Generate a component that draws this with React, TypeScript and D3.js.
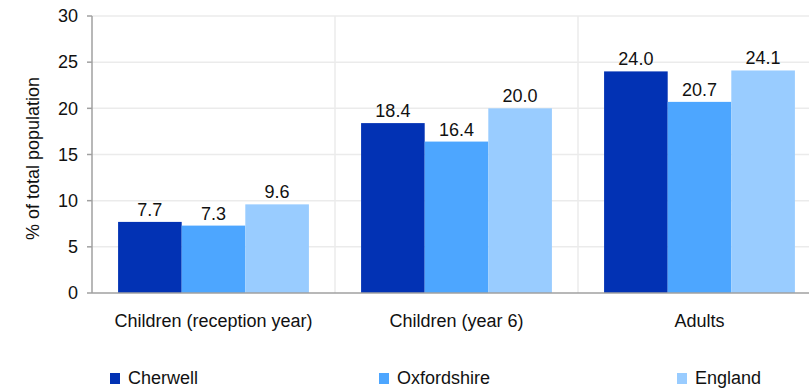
import React from "react";
import * as d3 from "d3";

const categories = ["Children (reception year)", "Children (year 6)", "Adults"];
const seriesNames = ["Cherwell", "Oxfordshire", "England"];
const cherwell = [7.7, 18.4, 24.0];
const oxfordshire = [7.3, 16.4, 20.7];
const england = [9.6, 20.0, 24.1];
const yTicks = [0, 5, 10, 15, 20, 25, 30];
const colors = ["#0232B4", "#4DA6FF", "#99CCFF"];

const W = 809;
const H = 388;
const left = 92;
const right = 821;
const top = 16;
const bottom = 293;
const font = "'Liberation Sans', Arial, sans-serif";
const fs = 18;

export default function App() {
  const values = [cherwell, oxfordshire, england];
  const y = d3.scaleLinear().domain([0, 30]).range([bottom, top]);
  const x0 = d3.scaleBand<string>().domain(categories).range([left, right]).padding(0);
  const x1 = d3
    .scaleBand<string>()
    .domain(seriesNames)
    .range([0, x0.bandwidth()])
    .paddingInner(0)
    .paddingOuter(0.41);
  const legendX = [110, 379, 677];

  return (
    <svg
      width={W}
      height={H}
      style={{ position: "absolute", left: 0, top: 0, fontFamily: font }}
    >
      <rect x={0} y={0} width={W} height={H} fill="#fff" />
      {yTicks.slice(1).map((t) => (
        <line key={"g" + t} x1={left} x2={W} y1={y(t)} y2={y(t)} stroke="#ebebeb" strokeWidth={1.5} />
      ))}
      {categories.slice(1).map((c) => (
        <line
          key={"v" + c}
          x1={x0(c)!}
          x2={x0(c)!}
          y1={top}
          y2={bottom}
          stroke="#ebebeb"
          strokeWidth={1.5}
        />
      ))}
      {categories.map((c, ci) =>
        seriesNames.map((s, si) => {
          const v = values[si][ci];
          const bx = x0(c)! + x1(s)!;
          return (
            <g key={c + s}>
              <rect x={bx} y={y(v)} width={x1.bandwidth()} height={bottom - y(v)} fill={colors[si]} />
              <text
                x={bx + x1.bandwidth() / 2}
                y={y(v) - 6}
                textAnchor="middle"
                fontSize={fs}
                fill="#111"
              >
                {v.toFixed(1)}
              </text>
            </g>
          );
        })
      )}
      <line x1={left} x2={left} y1={top} y2={bottom} stroke="#a0a0a0" strokeWidth={1.5} />
      <line x1={left} x2={W} y1={bottom} y2={bottom} stroke="#a0a0a0" strokeWidth={1.5} />
      {yTicks.map((t) => (
        <g key={"t" + t}>
          <line x1={left - 5} x2={left} y1={y(t)} y2={y(t)} stroke="#a0a0a0" strokeWidth={1.5} />
          <text x={78} y={y(t)} dy="0.35em" textAnchor="end" fontSize={fs} fill="#111">
            {t}
          </text>
        </g>
      ))}
      <text
        transform={`translate(33, ${(top + bottom) / 2 + 4}) rotate(-90)`}
        textAnchor="middle"
        dy="0.35em"
        fontSize={fs}
        fill="#111"
      >
        % of total population
      </text>
      {categories.map((c) => (
        <text
          key={"c" + c}
          x={x0(c)! + x0.bandwidth() / 2}
          y={321}
          dy="0.35em"
          textAnchor="middle"
          fontSize={fs}
          fill="#111"
        >
          {c}
        </text>
      ))}
      {seriesNames.map((s, i) => (
        <g key={"l" + s}>
          <rect x={legendX[i]} y={373} width={10} height={11} fill={colors[i]} />
          <text x={legendX[i] + 18} y={378} dy="0.35em" fontSize={fs} fill="#111">
            {s}
          </text>
        </g>
      ))}
    </svg>
  );
}
